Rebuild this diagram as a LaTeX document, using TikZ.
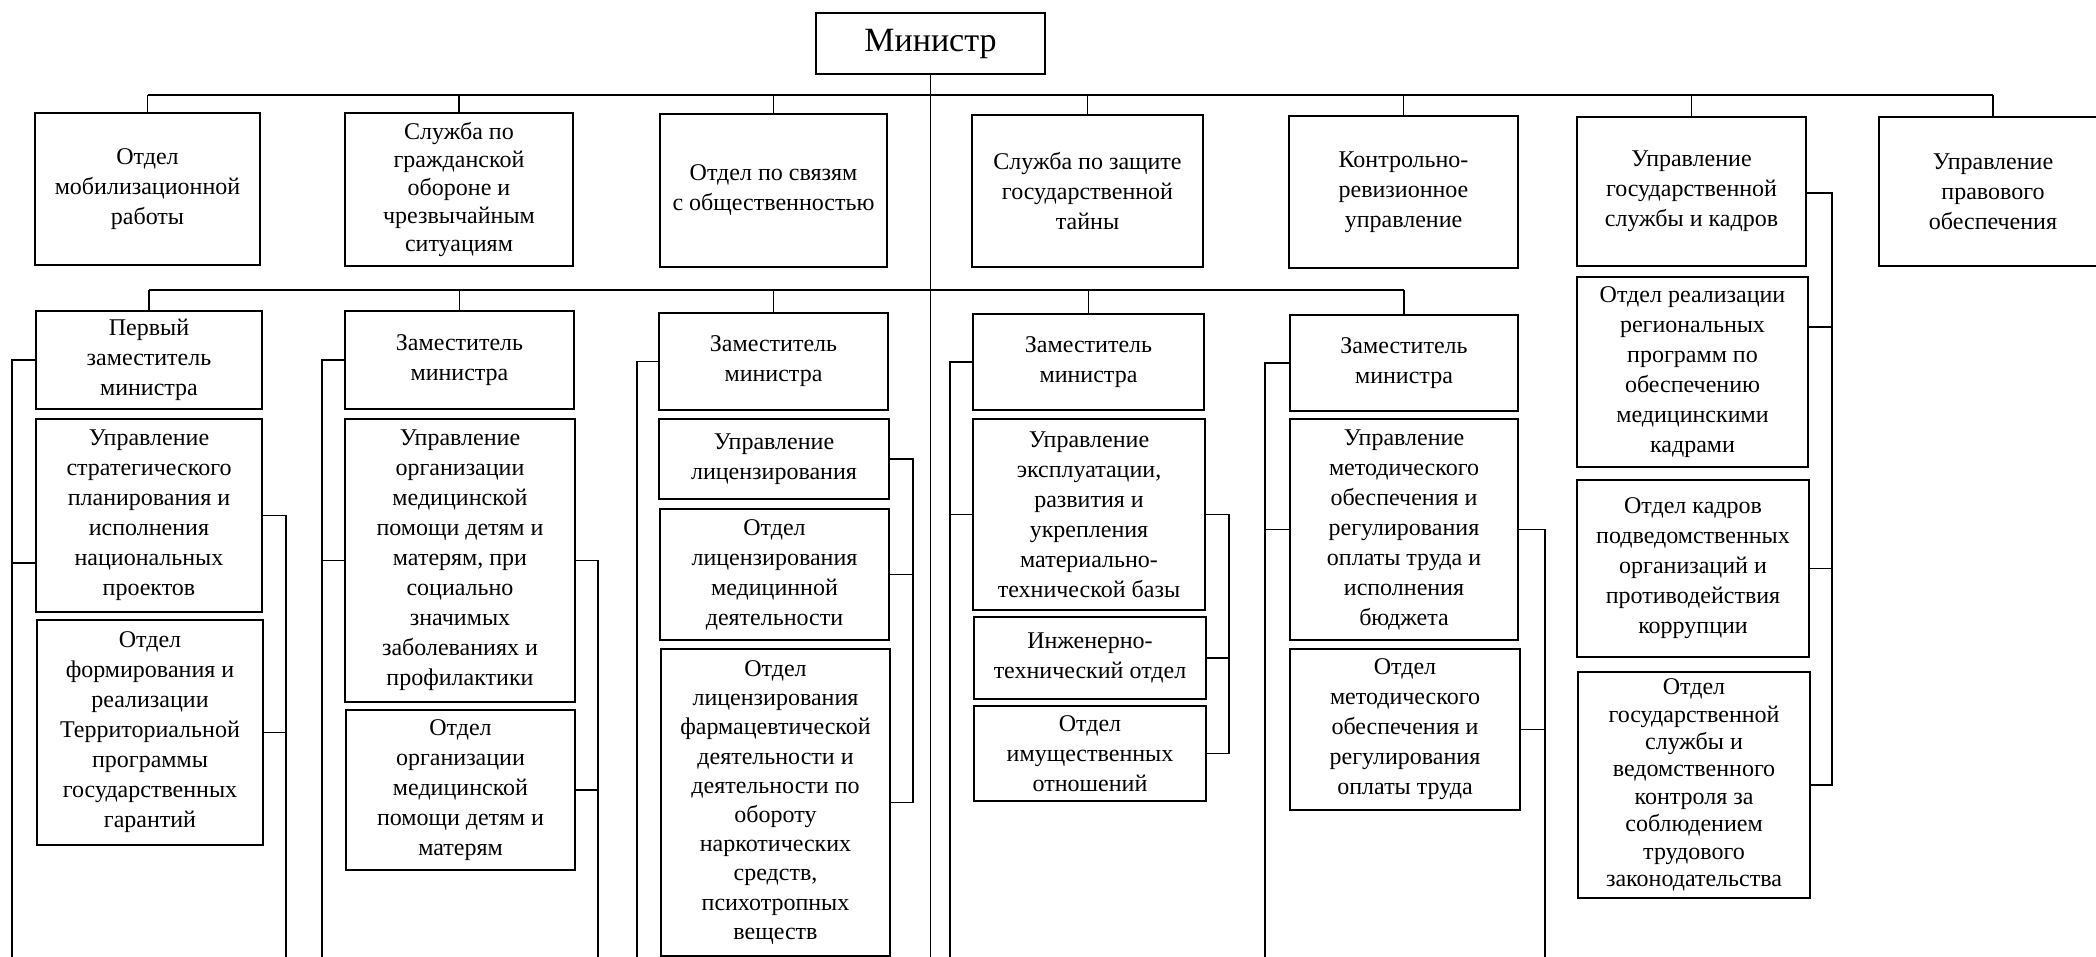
\documentclass[tikz,border=0pt]{standalone}
\usepackage{fontspec}
\setmainfont{Liberation Serif}
\newcommand\mkbox[7][]{\node[box, #1, minimum width={(#5-#3)*0.5pt}, minimum height={(#6-#4)*0.5pt}] (#2) at ({(#3+#5)/2},{(#4+#6)/2}) {#7};}
\begin{document}
\begin{tikzpicture}[x=0.5pt,y=-0.5pt,
  box/.style={draw, line width=0.9pt, align=center, inner sep=0pt, font=\fontsize{12}{15}\selectfont},
  conn/.style={line width=0.75pt}]
\useasboundingbox (0,0) rectangle (2096,957);
\coordinate (bot) at (0,957);
% minister
\mkbox[font=\fontsize{17}{20}\selectfont]{M}{816}{13}{1045}{74}{Министр}
% top row
\mkbox{B1}{35}{113}{260}{265}{Отдел\\мобилизационной\\работы}
\mkbox[font=\fontsize{12}{14}\selectfont]{B2}{345}{113}{573}{266}{Служба по\\гражданской\\обороне и\\чрезвычайным\\ситуациям}
\mkbox{B3}{660}{114}{887}{267}{Отдел по связям\\с общественностью}
\mkbox{B4}{972}{115}{1203}{267}{Служба по защите\\государственной\\тайны}
\mkbox{B5}{1289}{116}{1518}{268}{Контрольно-\\ревизионное\\управление}
\mkbox{B6}{1577}{117}{1806}{266}{Управление\\государственной\\службы и кадров}
\mkbox{B7}{1879}{117}{2107}{266}{Управление\\правового\\обеспечения}
% deputies
\mkbox{D1}{36}{311}{262}{409}{Первый\\заместитель\\министра}
\mkbox{D2}{345}{311}{574}{409}{Заместитель\\министра}
\mkbox{D3}{659}{313}{888}{410}{Заместитель\\министра}
\mkbox{D4}{973}{314}{1204}{410}{Заместитель\\министра}
\mkbox{D5}{1290}{315}{1518}{411}{Заместитель\\министра}
% column 1
\mkbox{C1a}{36}{419}{262}{612}{Управление\\стратегического\\планирования и\\исполнения\\национальных\\проектов}
\mkbox{C1b}{37}{620}{263}{845}{Отдел\\формирования и\\реализации\\Территориальной\\программы\\государственных\\гарантий}
% column 2
\mkbox{C2a}{345}{419}{575}{702}{Управление\\организации\\медицинской\\помощи детям и\\матерям, при\\социально\\значимых\\заболеваниях и\\профилактики}
\mkbox{C2b}{346}{710}{575}{870}{Отдел\\организации\\медицинской\\помощи детям и\\матерям}
% column 3
\mkbox{C3a}{659}{419}{889}{499}{Управление\\лицензирования}
\mkbox{C3b}{660}{509}{889}{640}{Отдел\\лицензирования\\медицинной\\деятельности}
\mkbox[font=\fontsize{12}{14.6}\selectfont]{C3c}{661}{649}{890}{956}{Отдел\\лицензирования\\фармацевтической\\деятельности и\\деятельности по\\обороту\\наркотических\\средств,\\психотропных\\веществ}
% column 4
\mkbox{C4a}{973}{419}{1205}{610}{Управление\\эксплуатации,\\развития и\\укрепления\\материально-\\технической базы}
\mkbox{C4b}{974}{617}{1206}{699}{Инженерно-\\технический отдел}
\mkbox{C4c}{974}{706}{1206}{801}{Отдел\\имущественных\\отношений}
% column 5
\mkbox{C5a}{1290}{419}{1518}{640}{Управление\\методического\\обеспечения и\\регулирования\\оплаты труда и\\исполнения\\бюджета}
\mkbox{C5b}{1290}{649}{1520}{810}{Отдел\\методического\\обеспечения и\\регулирования\\оплаты труда}
% column 6
\mkbox{C6a}{1577}{277}{1808}{467}{Отдел реализации\\региональных\\программ по\\обеспечению\\медицинскими\\кадрами}
\mkbox{C6b}{1577}{480}{1809}{657}{Отдел кадров\\подведомственных\\организаций и\\противодействия\\коррупции}
\mkbox[font=\fontsize{12}{13.7}\selectfont]{C6c}{1578}{672}{1810}{898}{Отдел\\государственной\\службы и\\ведомственного\\контроля за\\соблюдением\\трудового\\законодательства}

% main vertical
\draw[conn] (M.south) -- (M.south |- bot);
% top bus
\coordinate (bus1) at (0,95);
\draw[conn] (B1.north |- bus1) -- (B7.north |- bus1);
\foreach \b in {B1,B2,B3,B4,B5,B6,B7} \draw[conn] (\b.north) -- (\b.north |- bus1);
% second bus
\coordinate (bus2) at (0,290);
\draw[conn] (D1.north |- bus2) -- (D5.north |- bus2);
\foreach \d in {D1,D2,D3,D4,D5} \draw[conn] (\d.north) -- (\d.north |- bus2);

% column 1
\coordinate (x1l) at (12,0);
\coordinate (x1r) at (286,0);
\draw[conn] (D1.west) -| (x1l |- bot);
\draw[conn] (C1a.west |- 0,563) -- (x1l |- 0,563);
\draw[conn] (C1a.east) -| (x1r |- bot);
\draw[conn] (C1b.east) -- (x1r |- C1b.east);
% column 2
\coordinate (x2l) at (322,0);
\coordinate (x2r) at (598,0);
\draw[conn] (D2.west) -| (x2l |- bot);
\draw[conn] (C2a.west) -- (x2l |- C2a.west);
\draw[conn] (C2a.east) -| (x2r |- bot);
\draw[conn] (C2b.east) -- (x2r |- C2b.east);
% column 3
\coordinate (x3l) at (637,0);
\coordinate (x3r) at (913,0);
\draw[conn] (D3.west) -| (x3l |- bot);
\draw[conn] (C3a.east) -| (x3r |- C3c.east) -- (C3c.east);
\draw[conn] (C3b.east) -- (x3r |- C3b.east);
% column 4
\coordinate (x4l) at (950,0);
\coordinate (x4r) at (1229,0);
\draw[conn] (D4.west) -| (x4l |- bot);
\draw[conn] (C4a.west) -- (x4l |- C4a.west);
\draw[conn] (C4a.east) -| (x4r |- C4c.east) -- (C4c.east);
\draw[conn] (C4b.east) -- (x4r |- C4b.east);
% column 5
\coordinate (x5l) at (1265,0);
\coordinate (x5r) at (1545,0);
\draw[conn] (D5.west) -| (x5l |- bot);
\draw[conn] (C5a.west) -- (x5l |- C5a.west);
\draw[conn] (C5a.east) -| (x5r |- bot);
\draw[conn] (C5b.east) -- (x5r |- C5b.east);
% column 6
\coordinate (x6r) at (1832,0);
\draw[conn] (B6.east |- 0,193) -| (x6r |- C6c.east) -- (C6c.east);
\draw[conn] (C6a.east |- 0,327) -- (x6r |- 0,327);
\draw[conn] (C6b.east) -- (x6r |- C6b.east);
\end{tikzpicture}
\end{document}
